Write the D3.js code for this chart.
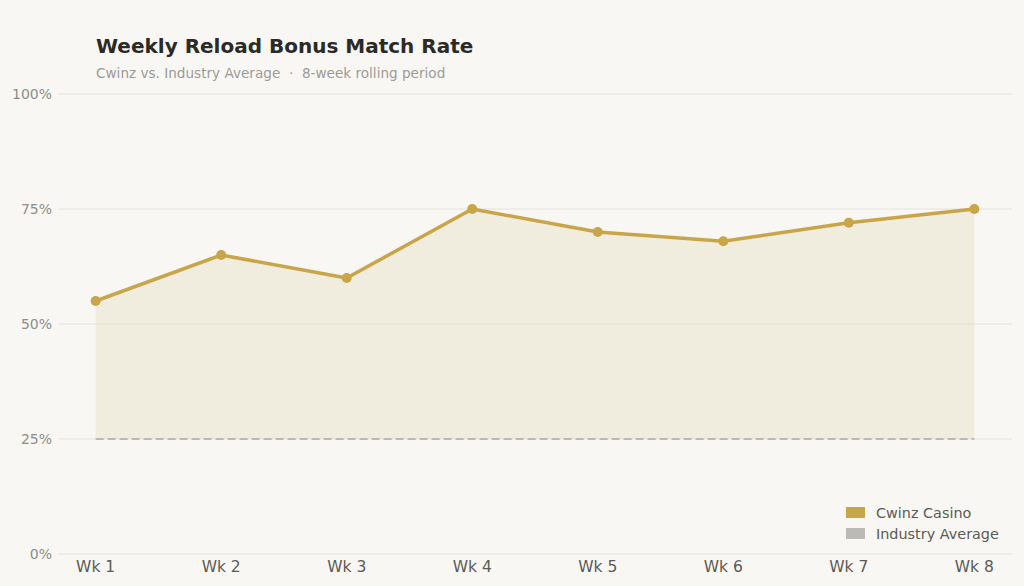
<!DOCTYPE html>
<html><head><meta charset="utf-8">
<script src="https://cdn.jsdelivr.net/npm/d3@7"></script>
<style>
html,body{margin:0;padding:0;background:#f8f7f3;}
svg{display:block;font-family:"DejaVu Sans",sans-serif;}
</style></head>
<body>
<svg id="c" width="1024" height="586"></svg>
<script>
const weeks = ["Wk 1","Wk 2","Wk 3","Wk 4","Wk 5","Wk 6","Wk 7","Wk 8"];
const cwinz = [55,65,60,75,70,68,72,75];
const industry = [25,25,25,25,25,25,25,25];
const yTicks = [0,25,50,75,100];
const seriesNames = ["Cwinz Casino","Industry Average"];
const seriesColors = ["#c9a54a","#bbbab6"];

const svg = d3.select("#c");
svg.append("rect").attr("width",1024).attr("height",586).attr("fill","#f8f7f3");

const x = d3.scalePoint().domain(weeks).range([58,1012]).padding(0.3);
const y = d3.scaleLinear().domain([0,100]).range([554,94]);

// grid
svg.append("g").selectAll("line").data(yTicks).join("line")
  .attr("x1",58).attr("x2",1012)
  .attr("y1",d=>y(d)).attr("y2",d=>y(d))
  .attr("stroke","#e6e3dd").attr("stroke-width",1);

// y labels
svg.append("g").selectAll("text").data(yTicks).join("text")
  .attr("x",52).attr("y",d=>y(d)).attr("dy","0.35em")
  .attr("text-anchor","end").attr("font-size",14).attr("fill","#8f8d88")
  .text(d=>d+"%");

// x labels
svg.append("g").selectAll("text").data(weeks).join("text")
  .attr("x",d=>x(d)).attr("y",567).attr("dy","0.35em")
  .attr("text-anchor","middle").attr("font-size",15.5).attr("fill","#5c5a55")
  .text(d=>d);

// area between
const area = d3.area()
  .x((d,i)=>x(weeks[i]))
  .y0((d,i)=>y(industry[i]))
  .y1(d=>y(d));
svg.append("path").datum(cwinz).attr("d",area)
  .attr("fill","#c9a54a").attr("fill-opacity",0.12);

// industry dashed line
const line = d3.line().x((d,i)=>x(weeks[i])).y(d=>y(d));
svg.append("path").datum(industry).attr("d",line)
  .attr("fill","none").attr("stroke",seriesColors[1]).attr("stroke-width",2)
  .attr("stroke-dasharray","8,4");

// cwinz line
svg.append("path").datum(cwinz).attr("d",line)
  .attr("fill","none").attr("stroke",seriesColors[0]).attr("stroke-width",3.5)
  .attr("stroke-linejoin","round");
svg.append("g").selectAll("circle").data(cwinz).join("circle")
  .attr("cx",(d,i)=>x(weeks[i])).attr("cy",d=>y(d)).attr("r",5)
  .attr("fill",seriesColors[0]);

// title
svg.append("text").attr("x",96).attr("y",53).attr("font-size",20).attr("font-weight","bold")
  .attr("fill","#2b2a26").text("Weekly Reload Bonus Match Rate");
svg.append("text").attr("x",96).attr("y",78).attr("font-size",13.6)
  .attr("fill","#9d9b96").text("Cwinz vs. Industry Average  ·  8-week rolling period")
  .attr("xml:space","preserve").style("white-space","pre");

// legend
const lg = svg.append("g").selectAll("g").data(seriesNames).join("g")
  .attr("transform",(d,i)=>`translate(846,${507+i*21})`);
lg.append("rect").attr("width",19).attr("height",11).attr("fill",(d,i)=>seriesColors[i]);
lg.append("text").attr("x",30).attr("y",6).attr("dy","0.35em").attr("font-size",14.4)
  .attr("fill","#5c5a55").text(d=>d);
</script>
</body></html>
